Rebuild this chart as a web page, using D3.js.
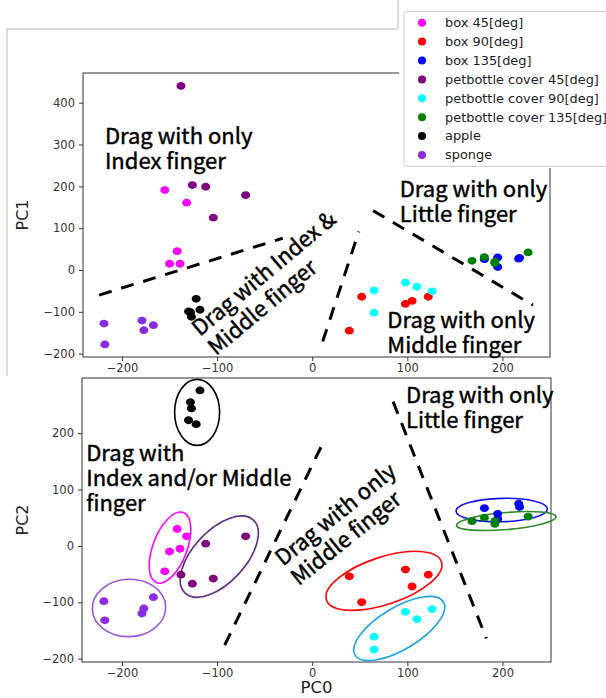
<!DOCTYPE html>
<html><head><meta charset="utf-8">
<script src="https://cdn.jsdelivr.net/npm/d3@7"></script>
<style>
html,body{margin:0;padding:0;background:#fff;}
svg{display:block;}
</style></head>
<body><svg id="c" width="606" height="698"></svg>
<script>
// ---- data: [PC0, PC1, PC2] per point ----
const seriesNames = ["box 45[deg]","box 90[deg]","box 135[deg]","petbottle cover 45[deg]","petbottle cover 90[deg]","petbottle cover 135[deg]","apple","sponge"];
const seriesColors = ["#ff00ff","#ff0000","#0000ff","#800080","#00ffff","#008000","#000000","#8a2be2"];
const box45 = [[-155,191,-45],[-132,161,17],[-142,45,30],[-150,15,-10],[-139,15,-5]];
const box90 = [[39,-145,-54],[52,-64,-100],[98,-81,-42],[105,-74,-72],[122,-64,-51]];
const box135 = [[181,26,67],[195,30,57],[195,7,48],[217,27,75],[218,29,69]];
const pet45 = [[-138,440,-51],[-126,203,-67],[-112,199,4],[-70,179,17],[-104,125,-58]];
const pet90 = [[65,-49,-161],[65,-102,-184],[98,-30,-117],[110,-40,-130],[126,-51,-112]];
const pet135 = [[168,22,44],[181,31,50],[192,16,39],[227,42,52],[192,20,44]];
const apple = [[-118,-95,276],[-122,-69,216],[-128,-101,255],[-127,-112,244],[-130,-99,223]];
const sponge = [[-219,-128,-98],[-218,-178,-132],[-167,-132,-91],[-177,-144,-111],[-179,-121,-120]];
const allSeries = [box45,box90,box135,pet45,pet90,pet135,apple,sponge];

const xTicks = [-200,-100,0,100,200];
const yTicksTop = [-200,-100,0,100,200,300,400];
const yTicksBottom = [-200,-100,0,100,200];

// annotations (data units)
const dashTop = [[[-224,-60],[-31,76]],[[11,-171],[49,92]],[[64,142],[232,-84]]];
const dashBottom = [[[-92,-176],[12,185]],[[85,256],[183,-164]]];
const labelsTop = [
  {p:[-218,301], lines:["Drag with only","Index finger"], rot:0},
  {p:[92,175], lines:["Drag with only","Little finger"], rot:0},
  {p:[79,-139], lines:["Drag with only","Middle finger"], rot:0},
  {p:[-118,-160], lines:["Drag with Index &","Middle finger"], rot:-40}
];
const labelsBottom = [
  {p:[-237.6,150], lines:["Drag with","Index and/or Middle","finger"], rot:0},
  {p:[98.6,253], lines:["Drag with only","Little finger"], rot:0},
  {p:[-30.7,-37], lines:["Drag with only","Middle finger"], rot:-39}
];
// ellipses: center (data), radii px, angle deg, color
const ellipses = [
  {c:[-121,237], rx:22.5, ry:33, a:0, col:"#000000"},
  {c:[-149.5,-3], rx:37.5, ry:17, a:-69, col:"#ff00ff"},
  {c:[-97.7,-19], rx:50, ry:26, a:-47, col:"#5e2a86"},
  {c:[-192.6,-110], rx:36.7, ry:28.7, a:-2, col:"#9b55d6"},
  {c:[75.4,-62], rx:60.6, ry:23.7, a:-18.4, col:"#ff0000"},
  {c:[91.5,-146.6], rx:51.5, ry:21, a:-31, col:"#1aa3e8"},
  {c:[199.2,63.7], rx:45.7, ry:11.7, a:-1.5, col:"#1010f0"},
  {c:[204,44.2], rx:50, ry:8.5, a:-5, col:"#2a8a2a"}
];

const svg = d3.select("#c");
const tickFont = "DejaVu Sans, sans-serif";
const annFont = "'Noto Sans CJK JP', 'Noto Sans', sans-serif";

// screenshot frame of the upper picture
svg.append("path").attr("d","M7,376 L7,29 L398,29 L398,0").attr("fill","none").attr("stroke","#cfcfcf").attr("stroke-width",1.5);

function drawChart(x, y, yTicks, yIdx, dashes, labels, ellipsesArr, yLabel, xLabel) {
  const g = svg.append("g");
  const [x0,x1] = x.range(), [y0,y1] = y.range();
  // axes
  const xa = g.append("g").attr("transform",`translate(0,${y0})`)
    .call(d3.axisBottom(x).tickValues(xTicks).tickSize(4).tickPadding(3).tickFormat(d => d < 0 ? "\u2212"+Math.abs(d) : d));
  const ya = g.append("g").attr("transform",`translate(${x0},0)`)
    .call(d3.axisLeft(y).tickValues(yTicks).tickSize(4).tickPadding(4).tickFormat(d => d < 0 ? "\u2212"+Math.abs(d) : d));
  [xa,ya].forEach(a => {
    a.select(".domain").remove();
    a.selectAll("line").attr("stroke","#333");
    a.selectAll("text").attr("font-family",tickFont).attr("font-size",11.5).attr("fill","#333");
  });
  g.append("rect").attr("x",x0).attr("y",y1).attr("width",x1-x0).attr("height",y0-y1)
    .attr("fill","none").attr("stroke","#333").attr("stroke-width",1);
  // dashed lines
  dashes.forEach(d => {
    g.append("line").attr("x1",x(d[0][0])).attr("y1",y(d[0][1])).attr("x2",x(d[1][0])).attr("y2",y(d[1][1]))
      .attr("stroke","#000").attr("stroke-width",3).attr("stroke-dasharray","13,10");
  });
  // ellipses
  ellipsesArr.forEach(e => {
    g.append("ellipse").attr("cx",0).attr("cy",0).attr("rx",e.rx).attr("ry",e.ry)
      .attr("transform",`translate(${x(e.c[0])},${y(e.c[1])}) rotate(${e.a})`)
      .attr("fill","none").attr("stroke",e.col).attr("stroke-width",1.6);
  });
  // points
  allSeries.forEach((s,i) => {
    g.selectAll(null).data(s).enter().append("ellipse")
      .attr("cx",d => x(d[0])).attr("cy",d => y(d[yIdx])).attr("rx",4.5).attr("ry",3.9)
      .attr("fill",seriesColors[i]);
  });
  // labels
  labels.forEach(l => {
    const t = g.append("text").attr("transform",`translate(${x(l.p[0])},${y(l.p[1])}) rotate(${l.rot})`)
      .attr("font-family",annFont).attr("font-size",22).attr("fill","#000")
      .attr("stroke","#000").attr("stroke-width",0.45);
    l.lines.forEach((ln,k) => t.append("tspan").attr("x",0).attr("y",k*25).text(ln));
  });
  // axis labels
  g.append("text").attr("transform",`translate(28,${(y0+y1)/2}) rotate(-90)`).attr("text-anchor","middle")
    .attr("font-family",tickFont).attr("font-size",16).attr("fill","#222").text(yLabel);
  if (xLabel) g.append("text").attr("x",(x0+x1)/2).attr("y",693).attr("text-anchor","middle")
    .attr("font-family",tickFont).attr("font-size",16.5).attr("fill","#222").text(xLabel);
}

const xTop = d3.scaleLinear().domain([-241,250]).range([83,550]);
const yTop = d3.scaleLinear().domain([-208,471]).range([357,73]);
drawChart(xTop,yTop,yTicksTop,1,dashTop,labelsTop,[], "PC1", null);

const xBot = d3.scaleLinear().domain([-242,251]).range([82,551]);
const yBot = d3.scaleLinear().domain([-206,298]).range([662,378]);
drawChart(xBot,yBot,yTicksBottom,2,dashBottom,labelsBottom,ellipses,"PC2","PC0");

// legend
const lg = svg.append("g");
lg.append("rect").attr("x",399).attr("y",0).attr("width",207).attr("height",168).attr("fill","#fff");
lg.append("rect").attr("x",404).attr("y",11.5).attr("width",240).attr("height",155).attr("rx",3)
  .attr("fill","#fff").attr("stroke","#cccccc").attr("stroke-width",1);
seriesNames.forEach((n,i) => {
  const yy = 22.7 + i*18.9;
  lg.append("circle").attr("cx",422).attr("cy",yy).attr("r",4).attr("fill",seriesColors[i]);
  lg.append("text").attr("transform",`translate(445,${yy+4.3}) scale(1.05,1)`).attr("font-family",tickFont).attr("font-size",12.3)
    .attr("fill","#222").text(n);
});
</script></body></html>
